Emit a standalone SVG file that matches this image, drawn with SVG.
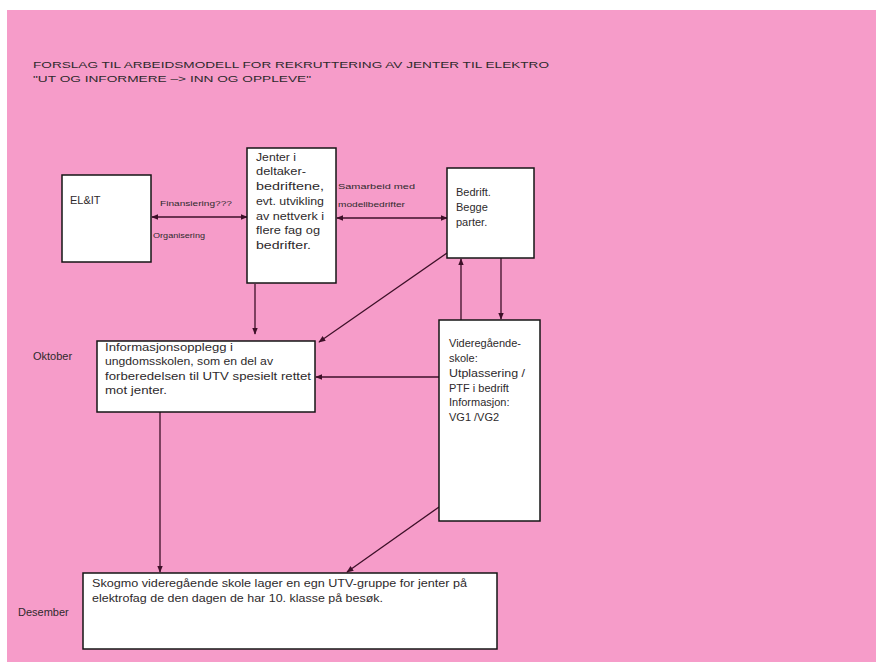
<svg xmlns="http://www.w3.org/2000/svg" width="876" height="662" viewBox="0 0 876 662">
  <style>
    .bg{fill:#f69cc9}
    .box{fill:#ffffff;stroke:#151515;stroke-width:1.5}
    .t{font-family:"Liberation Sans",Arial,sans-serif;font-size:11px;fill:#2e2a2c}
    .s{font-size:8px}
    .h{font-size:9.5px}
    .c{stroke:#3d1028;stroke-width:1.3;fill:none}
  </style>
  <defs>
    <marker id="ah" viewBox="0 0 10 10" refX="9" refY="5" markerWidth="7" markerHeight="7" markerUnits="userSpaceOnUse" orient="auto-start-reverse">
      <path d="M0,1 L10,5 L0,9 z" fill="#3d1028"/>
    </marker>
  </defs>

  <!-- page -->
  <rect x="0" y="0" width="876" height="662" fill="#ffffff"/>
  <rect class="bg" x="7" y="10" width="869" height="652"/>

  <!-- heading -->
  <g id="heading">
    <text class="t h" x="33" y="68" textLength="516" lengthAdjust="spacingAndGlyphs">FORSLAG  TIL ARBEIDSMODELL  FOR  REKRUTTERING AV JENTER TIL ELEKTRO</text>
    <text class="t h" x="33" y="82" textLength="278" lengthAdjust="spacingAndGlyphs">"UT OG  INFORMERE  –&gt; INN OG  OPPLEVE"</text>
  </g>

  <!-- connectors -->
  <g id="connectors">
    <path class="c" d="M152,217 H247" marker-start="url(#ah)" marker-end="url(#ah)"/>
    <path class="c" d="M337,218 H447" marker-start="url(#ah)" marker-end="url(#ah)"/>
    <path class="c" d="M255,284 V334" marker-end="url(#ah)"/>
    <path class="c" d="M447,253 L319,342" marker-end="url(#ah)"/>
    <path class="c" d="M461,320 V259" marker-end="url(#ah)"/>
    <path class="c" d="M501,258 V319" marker-end="url(#ah)"/>
    <path class="c" d="M439,377 H316" marker-end="url(#ah)"/>
    <path class="c" d="M160,412 V572" marker-end="url(#ah)"/>
    <path class="c" d="M439,507 L347,572" marker-end="url(#ah)"/>
    <text class="t s" x="160" y="206" textLength="72" lengthAdjust="spacingAndGlyphs">Finansiering???</text>
    <text class="t s" x="153" y="238" textLength="52" lengthAdjust="spacingAndGlyphs">Organisering</text>
    <text class="t s" x="338" y="189" textLength="77" lengthAdjust="spacingAndGlyphs">Samarbeid  med</text>
    <text class="t s" x="338" y="207" textLength="67" lengthAdjust="spacingAndGlyphs">modellbedrifter</text>
  </g>

  <!-- EL&IT -->
  <g id="elit">
    <rect class="box" x="62" y="175" width="89" height="87"/>
    <text class="t" x="70" y="204">EL&amp;IT</text>
  </g>

  <!-- Jenter i deltakerbedriftene -->
  <g id="jenter">
    <rect class="box" x="247" y="148" width="89" height="135"/>
    <text class="t" x="256" y="161" textLength="40" lengthAdjust="spacingAndGlyphs">Jenter i</text>
    <text class="t" x="256" y="175" textLength="50" lengthAdjust="spacingAndGlyphs">deltaker-</text>
    <text class="t" x="256" y="190" textLength="68" lengthAdjust="spacingAndGlyphs">bedriftene,</text>
    <text class="t" x="256" y="205" textLength="68" lengthAdjust="spacingAndGlyphs">evt. utvikling</text>
    <text class="t" x="256" y="220" textLength="68" lengthAdjust="spacingAndGlyphs">av nettverk i</text>
    <text class="t" x="256" y="234" textLength="64" lengthAdjust="spacingAndGlyphs">flere fag og</text>
    <text class="t" x="256" y="249" textLength="55" lengthAdjust="spacingAndGlyphs">bedrifter.</text>
  </g>

  <!-- Bedrift -->
  <g id="bedrift">
    <rect class="box" x="447" y="168" width="87" height="90"/>
    <text class="t" x="456" y="196">Bedrift.</text>
    <text class="t" x="456" y="211">Begge</text>
    <text class="t" x="456" y="226">parter.</text>
  </g>

  <!-- Videregående skole -->
  <g id="vgs">
    <rect class="box" x="439" y="320" width="101" height="201"/>
    <text class="t" x="449" y="347">Videregående-</text>
    <text class="t" x="449" y="362">skole:</text>
    <text class="t" x="449" y="377" textLength="76" lengthAdjust="spacingAndGlyphs">Utplassering /</text>
    <text class="t" x="449" y="392">PTF i bedrift</text>
    <text class="t" x="449" y="406">Informasjon:</text>
    <text class="t" x="449" y="421">VG1 /VG2</text>
  </g>

  <!-- Informasjonsopplegg -->
  <g id="informasjon">
    <text class="t" x="33" y="360">Oktober</text>
    <rect class="box" x="97" y="341" width="218" height="71"/>
    <text class="t" x="105" y="351" textLength="128" lengthAdjust="spacingAndGlyphs">Informasjonsopplegg i</text>
    <text class="t" x="105" y="365" textLength="168" lengthAdjust="spacingAndGlyphs">ungdomsskolen, som en del av</text>
    <text class="t" x="105" y="380" textLength="206" lengthAdjust="spacingAndGlyphs">forberedelsen til UTV spesielt rettet</text>
    <text class="t" x="105" y="394" textLength="62" lengthAdjust="spacingAndGlyphs">mot jenter.</text>
  </g>

  <!-- UTV-gruppe -->
  <g id="utv">
    <text class="t" x="18" y="616">Desember</text>
    <rect class="box" x="83" y="573" width="414" height="76"/>
    <text class="t" x="92" y="587" textLength="375" lengthAdjust="spacingAndGlyphs">Skogmo videregående skole lager en egn UTV-gruppe for jenter på</text>
    <text class="t" x="92" y="602" textLength="291" lengthAdjust="spacingAndGlyphs">elektrofag de den dagen de har 10. klasse på besøk.</text>
  </g>
</svg>
